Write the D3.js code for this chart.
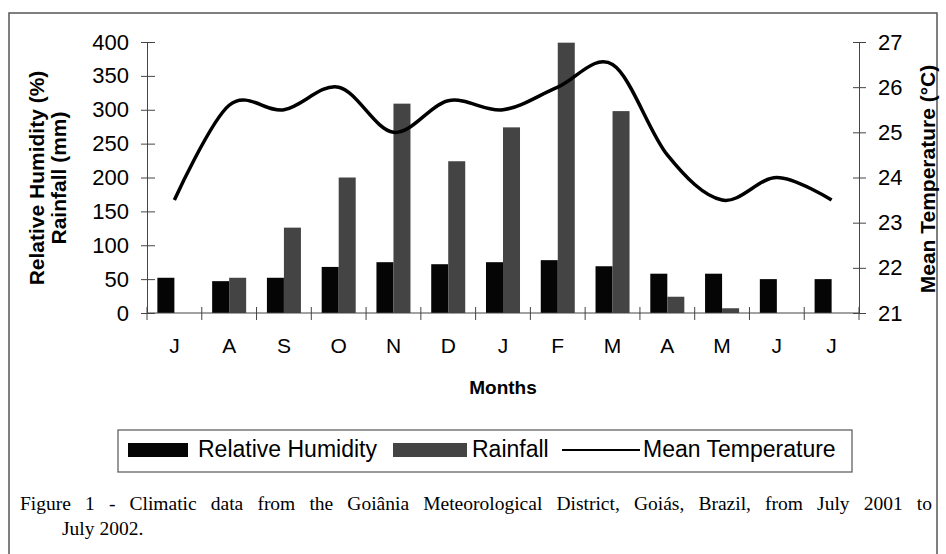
<!DOCTYPE html>
<html lang="en">
<head>
<meta charset="UTF-8">
<title>Climatic data - Goiania</title>
<script src="https://d3js.org/d3.v7.min.js"></script>
<style>
  body { margin: 0; background: #fff; }
</style>
</head>
<body>
<script>
let months = ["J", "A", "S", "O", "N", "D", "J", "F", "M", "A", "M", "J", "J"];
let humidity = [52, 47, 52, 68, 75, 72, 75, 78, 69, 58, 58, 50, 50];
let rainfall = [0, 52, 126, 200, 309, 224, 274, 399, 298, 24, 7, 0, 0];
let temperature = [23.5, 25.6, 25.5, 26.0, 25.0, 25.7, 25.5, 26.0, 26.5, 24.5, 23.5, 24.0, 23.5];
let leftTicks = [0, 50, 100, 150, 200, 250, 300, 350, 400];
let rightTicks = [21, 22, 23, 24, 25, 26, 27];

let sans = "'Liberation Sans', Arial, sans-serif";
let serif = "'Liberation Serif', 'Times New Roman', serif";

let width = 946, height = 554;
let svg = d3.select("body").append("svg")
    .attr("width", width).attr("height", height)
    .style("font-family", sans);

// outer figure frame
svg.append("rect")
    .attr("x", 9).attr("y", 13).attr("width", 928).attr("height", 560)
    .attr("fill", "none").attr("stroke", "#555").attr("stroke-width", 1.5);

let plotL = 147, plotR = 859, plotT = 42, plotB = 313;

let x = d3.scaleBand().domain(d3.range(months.length)).range([plotL, plotR]);
let xs = d3.scaleBand().domain(["hum", "rain"]).range([0, x.bandwidth()])
    .paddingInner(0).paddingOuter(0.61);
let yL = d3.scaleLinear().domain([0, 400]).range([plotB, plotT]);
let yR = d3.scaleLinear().domain([21, 27]).range([plotB, plotT]);

// bars
let g = svg.append("g");
g.selectAll(".hum").data(humidity).enter().append("rect")
    .attr("x", (d, i) => x(i) + xs("hum"))
    .attr("y", d => yL(d))
    .attr("width", xs.bandwidth())
    .attr("height", d => yL(0) - yL(d))
    .attr("fill", "#050505");
g.selectAll(".rain").data(rainfall).enter().append("rect")
    .attr("x", (d, i) => x(i) + xs("rain"))
    .attr("y", d => yL(d))
    .attr("width", xs.bandwidth())
    .attr("height", d => yL(0) - yL(d))
    .attr("fill", "#444");

// left axis
let axL = svg.append("g").attr("transform", `translate(${plotL},0)`)
    .call(d3.axisLeft(yL).tickValues(leftTicks).tickSize(6).tickPadding(12));
axL.attr("font-family", null).attr("font-size", null);
axL.select(".domain").attr("stroke", "#444");
axL.selectAll(".tick line").attr("x1", 8).attr("stroke", "#444");
axL.selectAll(".tick text").attr("font-size", 22).attr("fill", "#000");

// right axis
let axR = svg.append("g").attr("transform", `translate(${plotR},0)`)
    .call(d3.axisRight(yR).tickValues(rightTicks).tickFormat(d3.format("d")).tickSize(7).tickPadding(12));
axR.attr("font-family", null).attr("font-size", null);
axR.select(".domain").attr("stroke", "#444");
axR.selectAll(".tick line").attr("x1", -6).attr("stroke", "#444");
axR.selectAll(".tick text").attr("font-size", 22).attr("fill", "#000");

// bottom axis: line + boundary ticks, month labels at band centres
svg.append("line")
    .attr("x1", plotL).attr("x2", plotR).attr("y1", plotB).attr("y2", plotB)
    .attr("stroke", "#444");
svg.selectAll(".xtick").data(d3.range(months.length + 1)).enter().append("line")
    .attr("x1", i => i < months.length ? x(i) : plotR)
    .attr("x2", i => i < months.length ? x(i) : plotR)
    .attr("y1", plotB - 6).attr("y2", plotB + 7)
    .attr("stroke", "#444");
svg.selectAll(".mlabel").data(months).enter().append("text")
    .attr("x", (d, i) => x(i) + x.bandwidth() / 2)
    .attr("y", 353)
    .attr("text-anchor", "middle")
    .attr("font-size", 21)
    .text(d => d);

// temperature line
let line = d3.line()
    .x((d, i) => x(i) + x.bandwidth() / 2)
    .y(d => yR(d))
    .curve(d3.curveCatmullRom.alpha(0));
svg.append("path")
    .datum(temperature)
    .attr("d", line)
    .attr("fill", "none")
    .attr("stroke", "#000")
    .attr("stroke-width", 3.5)
    .attr("stroke-linejoin", "round");

// axis titles
svg.append("text")
    .attr("transform", "translate(44,178) rotate(-90)")
    .attr("text-anchor", "middle").attr("font-size", 21).attr("font-weight", "bold")
    .text("Relative Humidity (%)");
svg.append("text")
    .attr("transform", "translate(66,178) rotate(-90)")
    .attr("text-anchor", "middle").attr("font-size", 21).attr("font-weight", "bold")
    .text("Rainfall (mm)");
svg.append("text")
    .attr("transform", "translate(935,179) rotate(-90)")
    .attr("text-anchor", "middle").attr("font-size", 21).attr("font-weight", "bold")
    .text("Mean Temperature (°C)");
svg.append("text")
    .attr("x", 503).attr("y", 394)
    .attr("text-anchor", "middle").attr("font-size", 19).attr("font-weight", "bold")
    .text("Months");

// legend
let lg = svg.append("g");
lg.append("rect")
    .attr("x", 118).attr("y", 430).attr("width", 734).attr("height", 42)
    .attr("fill", "#fff").attr("stroke", "#555").attr("stroke-width", 1.2);
lg.append("rect").attr("x", 128).attr("y", 443).attr("width", 60).attr("height", 14).attr("fill", "#050505");
lg.append("text").attr("x", 198).attr("y", 457).attr("font-size", 23).text("Relative Humidity");
lg.append("rect").attr("x", 393).attr("y", 443).attr("width", 74).attr("height", 14).attr("fill", "#444");
lg.append("text").attr("x", 472).attr("y", 457).attr("font-size", 23).text("Rainfall");
lg.append("line").attr("x1", 562).attr("x2", 640).attr("y1", 450).attr("y2", 450)
    .attr("stroke", "#000").attr("stroke-width", 2);
lg.append("text").attr("x", 643).attr("y", 457).attr("font-size", 23).text("Mean Temperature");

// caption, first line justified by widening the word spaces
let cap1 = svg.append("text")
    .attr("x", 20).attr("y", 510)
    .style("font-family", serif)
    .attr("font-size", 19.5)
    .text("Figure 1 - Climatic data from the Goiânia Meteorological District, Goiás, Brazil, from July 2001 to");
let natural = cap1.node().getComputedTextLength();
let spaces = cap1.text().split(" ").length - 1;
cap1.style("word-spacing", Math.max(0, (912 - natural) / spaces) + "px");
svg.append("text")
    .attr("x", 62).attr("y", 535)
    .style("font-family", serif)
    .attr("font-size", 19.5)
    .text("July 2002.");
</script>
</body>
</html>
